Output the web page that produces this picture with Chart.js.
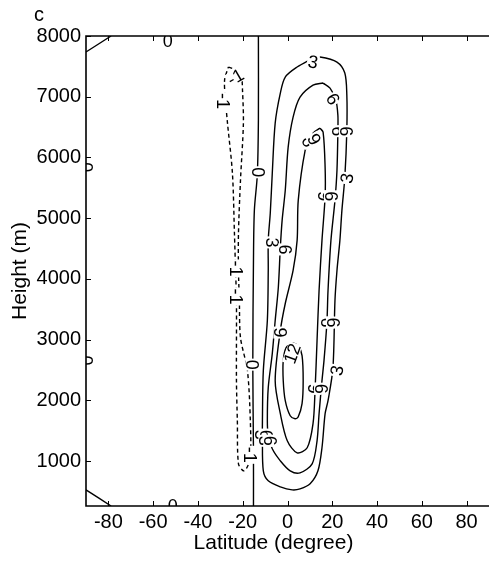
<!DOCTYPE html>
<html><head><meta charset="utf-8">
<script src="https://cdn.jsdelivr.net/npm/chart.js@4.4.0/dist/chart.umd.min.js"></script>
<style>html,body{margin:0;padding:0;background:#fff}#wrap{width:489px;height:562px;position:relative}</style>
</head><body><div id="wrap"><canvas id="c"></canvas></div>
<script>
// ---- data (latitude in degrees, height in m) ----
const xTicks = [-80, -60, -40, -20, 0, 20, 40, 60, 80];
const yTicks = [1000, 2000, 3000, 4000, 5000, 6000, 7000, 8000];

const contour0 = [[-13.0,8000],[-13.0,6614],[-13.5,5707],[-14.8,5129],[-15.2,4304],[-15.5,2588],[-15.2,1169],[-15.2,260]];
const contour0TopLeft = [[-90,7736],[-78.8,8000]];
const contour0BottomLeft = [[-90,526],[-78.8,260]];

const contourM1 = [[-26.4,7489],[-23.2,7439],[-20.6,7307],[-20.1,7109],[-19.7,6565],[-21.0,5624],[-21.9,4750],[-21.9,4139],
  [-21.5,3644],[-21.0,3034],[-17.9,2489],[-16.6,1664],[-16.6,1054],[-18.4,872],[-19.7,839],[-21.9,955],[-22.4,1664],
  [-22.8,2324],[-22.8,3644],[-23.2,4139],[-23.7,4750],[-24.6,5740],[-26.8,6565],[-27.7,6944],[-28.1,7274],[-26.4,7489]];

const contour3 = [[11.4,7637],[14.5,7654],[22.1,7571],[25.6,7390],[26.5,7027],[26.5,6449],[25.6,5674],[24.3,5129],
  [23.4,4634],[22.1,4139],[21.2,3644],[20.3,2539],[18.1,1994],[16.8,1780],[15.4,1219],[13.6,839],[10.1,625],[5.6,542],
  [2.1,526],[-3.2,575],[-8.6,674],[-10.8,839],[-11.2,1384],[-11.2,1664],[-10.8,2489],[-9.0,3314],[-8.6,4139],
  [-8.6,4634],[-7.7,5080],[-6.8,5740],[-5.5,6565],[-3.2,7060],[-1.0,7324],[4.3,7489],[11.4,7637]];

const contour6 = [[15.9,7225],[19.0,7142],[21.6,6944],[22.5,6697],[22.5,6433],[22.1,5789],[21.2,5294],[19.4,4634],
  [18.1,3809],[17.6,3281],[16.3,2654],[15.4,2324],[14.1,1780],[13.2,1334],[11.0,955],[5.6,806],[1.2,839],[-3.2,1004],
  [-6.8,1202],[-8.6,1417],[-9.0,1664],[-8.6,2209],[-6.8,2769],[-5.5,3314],[-4.1,3859],[-3.2,4518],[-2.4,4964],
  [-1.0,5459],[0.3,6169],[2.5,6664],[5.6,6994],[11.4,7192],[15.9,7225]];

const contour9 = [[14.5,6482],[15.9,6416],[16.8,5839],[16.8,5360],[15.4,4634],[14.1,3809],[13.2,2984],[12.3,2159],
  [11.4,1615],[8.8,1219],[4.3,1136],[-0.1,1334],[-3.2,1780],[-5.5,2324],[-3.2,3149],[-1.0,3595],[2.5,4139],
  [4.3,4634],[4.8,5294],[7.9,6119],[10.1,6284],[11.4,6400],[14.5,6482]];

const contour12 = [[2.1,2951],[4.8,2901],[6.5,2737],[7.0,2324],[6.5,1945],[4.8,1730],[3.4,1697],[1.2,1746],
  [-1.0,1994],[-1.9,2324],[-1.9,2654],[-0.6,2868],[2.1,2951]];

// contour labels: text, latitude, height
const labelText = ['3','6','6','6','3','6','9','9','6','3','6','6','6','9','12','3','9','6','3','6','3','6','0','0','0','0','0','0','-1','-1','-1','-1','-1'];
const labelLat  = [11.4,20.3,22.5,26.1,26.6,9.2,11.9,16.3,19.4,-6.8,-1.0,17.6,20.3,-3.2,2.1,22.1,11.9,15.0,-11.7,-9.5,-9.9,-7.7,-13.0,-15.7,-53.5,-51.2,-90,-90,-29.0,-23.2,-22.8,-23.2,-16.6];
const labelH    = [7571,6960,6433,6433,5657,6267,6300,5360,5360,4601,4485,3281,3281,3116,2769,2489,2192,2192,1433,1433,1334,1334,5756,2588,7918,262,5839,2654,6928,7324,4172,3710,1103];
const labelAngle= [10,60,90,90,-80,60,60,90,90,90,90,90,90,90,-70,-80,90,90,90,90,90,90,90,90,0,0,90,90,90,-30,90,90,90];

// ---- chart ----
const FONT = "'Liberation Sans', Arial, Helvetica, sans-serif";
function line(pts, dashed){
  return {data: pts.map(p => ({x:p[0], y:p[1]})), showLine:true, borderColor:'#000', borderWidth:1.4,
    pointRadius:0, tension:0.3, fill:false, borderDash: dashed ? [4,3] : []};
}

const decor = {
  id:'decor',
  afterDatasetsDraw(chart){
    const {ctx, chartArea:a, scales:{x, y}} = chart;
    ctx.save();
    ctx.beginPath(); ctx.rect(a.left, a.top, a.right-a.left, a.bottom-a.top); ctx.clip();
    ctx.font = '18px ' + FONT;
    ctx.textAlign = 'center'; ctx.textBaseline = 'middle';
    for (let i=0;i<labelText.length;i++){
      const px = x.getPixelForValue(labelLat[i]), py = y.getPixelForValue(labelH[i]);
      ctx.save(); ctx.translate(px, py); ctx.rotate(labelAngle[i]*Math.PI/180);
      const w = ctx.measureText(labelText[i]).width;
      ctx.fillStyle = '#fff'; ctx.fillRect(-w/2-1, -7, w+2, 14);
      ctx.fillStyle = '#000'; ctx.fillText(labelText[i], 0, 1);
      ctx.restore();
    }
    ctx.restore();
  },
  afterDraw(chart){
    const {ctx, chartArea:a, scales:{x, y}} = chart;
    ctx.save();
    ctx.strokeStyle = '#000';
    ctx.lineWidth = 1;
    ctx.beginPath();
    xTicks.forEach(v => { const p = Math.round(x.getPixelForValue(v))+0.5;
      ctx.moveTo(p, a.bottom); ctx.lineTo(p, a.bottom-5); ctx.moveTo(p, a.top); ctx.lineTo(p, a.top+5); });
    yTicks.forEach(v => { const p = Math.round(y.getPixelForValue(v))+0.5;
      ctx.moveTo(a.left, p); ctx.lineTo(a.left+5, p); });
    ctx.stroke();
    ctx.lineWidth = 1.6;
    ctx.beginPath();
    ctx.moveTo(a.right+2, a.top); ctx.lineTo(a.left, a.top); ctx.lineTo(a.left, a.bottom); ctx.lineTo(a.right+2, a.bottom);
    ctx.stroke();
    ctx.fillStyle = '#000';
    ctx.font = '20px ' + FONT;
    ctx.textAlign = 'left'; ctx.textBaseline = 'alphabetic';
    ctx.fillText('c', 34, 21);
    ctx.font = '21px ' + FONT;
    ctx.textAlign = 'center';
    ctx.fillText('Latitude (degree)', (a.left+a.right)/2 - 14, 549);
    ctx.translate(26, 271); ctx.rotate(-Math.PI/2);
    ctx.fillText('Height (m)', 0, 0);
    ctx.restore();
  }
};

new Chart(document.getElementById('c'), {
  type:'scatter',
  data:{datasets:[line(contour0), line(contour0TopLeft), line(contour0BottomLeft), line(contourM1, true),
    line(contour3), line(contour6), line(contour9), line(contour12)]},
  options:{
    responsive:true, maintainAspectRatio:false, animation:false,
    layout:{padding:{left:0, top:36, right:0, bottom:0}},
    plugins:{legend:{display:false}, tooltip:{enabled:false}},
    scales:{
      x:{type:'linear', min:-90, max:90,
        afterBuildTicks: s => { s.ticks = xTicks.map(v => ({value:v})); },
        afterFit: s => { s.height = 56; },
        grid:{display:false, drawTicks:false}, border:{display:false},
        ticks:{color:'#000', font:{size:20, family:FONT}, padding:4, maxRotation:0, autoSkip:false,
          callback: v => String(v)}},
      y:{type:'linear', min:260, max:8000,
        afterBuildTicks: s => { s.ticks = yTicks.map(v => ({value:v})); },
        afterFit: s => { s.width = 86; },
        grid:{display:false, drawTicks:false}, border:{display:false},
        ticks:{color:'#000', font:{size:20, family:FONT}, padding:5, autoSkip:false,
          callback: v => String(v)}}
    }
  },
  plugins:[decor]
});
</script></body></html>
